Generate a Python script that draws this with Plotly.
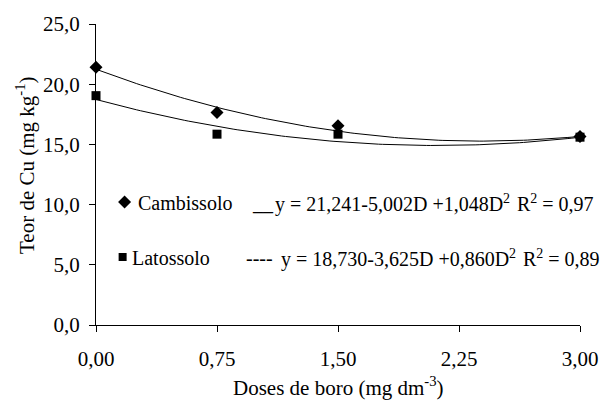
import numpy as np
import plotly.graph_objects as go

# Boron doses (mg dm-3) and Cu contents (mg kg-1)
doses = [0.0, 0.75, 1.50, 3.00]
cambissolo = [21.4, 17.65, 16.55, 15.65]
latossolo = [19.05, 15.85, 15.85, 15.6]

# Quadratic fit coefficients (a, b, c) for y = a + b*D + c*D^2
coef_cambissolo = [21.241, -5.002, 1.048]
coef_latossolo = [18.730, -3.625, 0.860]

x_ticks = [0.0, 0.75, 1.50, 2.25, 3.00]
x_ticklabels = ["0,00", "0,75", "1,50", "2,25", "3,00"]
y_ticks = [0, 5, 10, 15, 20, 25]
y_ticklabels = ["0,0", "5,0", "10,0", "15,0", "20,0", "25,0"]

FONT = "Liberation Serif"
FS_TICK = 21
FS_TITLE = 21
FS_LEG = 20
W, H = 610, 401
L, R, T, B = 96, 23, 24, 76
PW, PH = W - L - R, H - T - B


def px(x):
    return (x - L) / PW


def py(y):
    return (H - B - y) / PH


dd = np.linspace(0, 3, 121)
fit_c = coef_cambissolo[0] + coef_cambissolo[1] * dd + coef_cambissolo[2] * dd ** 2
fit_l = coef_latossolo[0] + coef_latossolo[1] * dd + coef_latossolo[2] * dd ** 2

fig = go.Figure()
fig.add_trace(go.Scatter(x=dd, y=fit_c, mode="lines", line=dict(color="black", width=1),
                         showlegend=False, hoverinfo="skip", cliponaxis=False))
fig.add_trace(go.Scatter(x=dd, y=fit_l, mode="lines", line=dict(color="black", width=1),
                         showlegend=False, hoverinfo="skip", cliponaxis=False))
fig.add_trace(go.Scatter(x=doses, y=cambissolo, mode="markers", name="Cambissolo",
                         marker=dict(symbol="diamond", size=10, color="black"),
                         showlegend=False, cliponaxis=False))
fig.add_trace(go.Scatter(x=doses, y=latossolo, mode="markers", name="Latossolo",
                         marker=dict(symbol="square", size=9, color="black"),
                         showlegend=False, cliponaxis=False))

# Legend keys drawn on an overlay axis spanning the plot area (0..1)
fig.add_trace(go.Scatter(x=[px(125)], y=[py(202)], xaxis="x2", yaxis="y2", mode="markers",
                         marker=dict(symbol="diamond", size=10, color="black"),
                         showlegend=False, hoverinfo="skip", cliponaxis=False))
fig.add_trace(go.Scatter(x=[px(123)], y=[py(257)], xaxis="x2", yaxis="y2", mode="markers",
                         marker=dict(symbol="square", size=8, color="black"),
                         showlegend=False, hoverinfo="skip", cliponaxis=False))

ann = []


def txt(x, y, s, size=FS_LEG):
    ann.append(dict(x=px(x), y=py(y), xref="paper", yref="paper", text=s, showarrow=False,
                    xanchor="left", yanchor="middle",
                    font=dict(family=FONT, size=size, color="black")))


txt(137, 203, "Cambissolo")
txt(252, 203, "__")
txt(276, 203, "y = 21,241-5,002D +1,048D<sup>2</sup>")
txt(521, 203, "R<sup>2</sup> = 0,97")
txt(130, 258, "Latossolo")
txt(246, 258, "----")
txt(282, 258, "y = 18,730-3,625D +0,860D<sup>2</sup>")
txt(527, 258, "R<sup>2</sup> = 0,89")

# Axis titles
ann.append(dict(x=px(24), y=py(165), xref="paper", yref="paper", showarrow=False,
                text="Teor de Cu (mg kg<sup>-1</sup>)", textangle=-90,
                xanchor="center", yanchor="middle",
                font=dict(family=FONT, size=FS_TITLE, color="black")))
ann.append(dict(x=px(342), y=py(386), xref="paper", yref="paper", showarrow=False,
                text="Doses de boro (mg dm<sup>-3</sup>)",
                xanchor="center", yanchor="middle",
                font=dict(family=FONT, size=FS_TITLE, color="black")))

axis_style = dict(showgrid=False, zeroline=False, showline=True, linecolor="black", linewidth=1,
                  ticks="outside", ticklen=6, tickcolor="black", tickwidth=1,
                  tickfont=dict(family=FONT, size=FS_TICK, color="black"), fixedrange=True)

fig.update_layout(
    width=W, height=H,
    margin=dict(l=L, r=R, t=T, b=B, pad=0),
    paper_bgcolor="white", plot_bgcolor="white",
    font=dict(family=FONT, size=FS_TICK, color="black"),
    annotations=ann,
    xaxis=dict(range=[0, 3], tickvals=x_ticks, ticktext=x_ticklabels,
               ticklabelstandoff=9, **axis_style),
    yaxis=dict(range=[0, 25], tickvals=y_ticks, ticktext=y_ticklabels,
               ticklabelstandoff=5, **axis_style),
    xaxis2=dict(range=[0, 1], overlaying="x", visible=False, fixedrange=True),
    yaxis2=dict(range=[0, 1], overlaying="y", visible=False, fixedrange=True),
)

fig.write_html("out.html")
